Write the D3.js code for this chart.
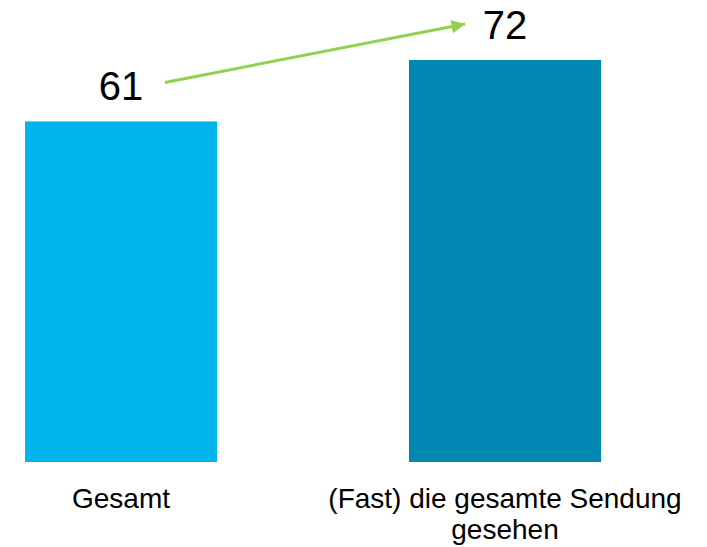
<!DOCTYPE html>
<html>
<head>
<meta charset="utf-8">
<script src="https://cdn.jsdelivr.net/npm/d3@7"></script>
<style>
  html, body { margin: 0; padding: 0; background: #fff; }
  svg { display: block; }
  text { font-family: "Liberation Sans", Arial, sans-serif; fill: #000; }
</style>
</head>
<body>
<svg id="chart" width="707" height="547"></svg>
<script>
// Data
const categories = ["Gesamt", "(Fast) die gesamte Sendung gesehen"];
const categoryLines = [["Gesamt"], ["(Fast) die gesamte Sendung", "gesehen"]];
const values = [61, 72];
const barColors = ["#00B5EC", "#0088B2"];

const svg = d3.select("#chart");
const baseY = 462;

const x = d3.scaleBand()
  .domain(categories)
  .range([-71, 697])
  .paddingInner(0.5)
  .paddingOuter(0.25);

const y = d3.scaleLinear()
  .domain([0, d3.max(values)])
  .range([baseY, 60]);

// Bars
svg.selectAll("rect.bar")
  .data(values)
  .join("rect")
  .attr("class", "bar")
  .attr("x", (d, i) => x(categories[i]))
  .attr("y", d => y(d))
  .attr("width", x.bandwidth())
  .attr("height", d => y(0) - y(d))
  .attr("fill", (d, i) => barColors[i]);

// Value labels
svg.selectAll("text.value")
  .data(values)
  .join("text")
  .attr("class", "value")
  .attr("x", (d, i) => x(categories[i]) + x.bandwidth() / 2)
  .attr("y", d => y(d) - 21)
  .attr("text-anchor", "middle")
  .style("font-size", "40px")
  .text(d => d);

// Category labels (wrapped)
const labels = svg.selectAll("text.cat")
  .data(categories)
  .join("text")
  .attr("class", "cat")
  .attr("text-anchor", "middle")
  .style("font-size", "28px")
  .attr("x", d => x(d) + x.bandwidth() / 2)
  .attr("y", 508);
labels.each(function(d, i) {
  const t = d3.select(this);
  categoryLines[i].forEach((line, k) => {
    t.append("tspan")
      .attr("x", x(d) + x.bandwidth() / 2)
      .attr("dy", k === 0 ? 0 : 31)
      .text(line);
  });
});

// Growth arrow between the two value labels
const defs = svg.append("defs");
defs.append("marker")
  .attr("id", "arrowHead")
  .attr("viewBox", "0 0 10 10")
  .attr("refX", 10)
  .attr("refY", 5)
  .attr("markerWidth", 5.5)
  .attr("markerHeight", 4.5)
  .attr("markerUnits", "strokeWidth")
  .attr("orient", "auto")
  .append("path")
  .attr("d", "M0,0 L10,5 L0,10 Z")
  .attr("fill", "#92D050");

const c0 = x(categories[0]) + x.bandwidth() / 2;
const c1 = x(categories[1]) + x.bandwidth() / 2;
svg.append("line")
  .attr("x1", c0 + 44)
  .attr("y1", y(values[0]) - 39)
  .attr("x2", c1 - 40)
  .attr("y2", y(values[1]) - 36)
  .attr("stroke", "#92D050")
  .attr("stroke-width", 3)
  .attr("marker-end", "url(#arrowHead)");
</script>
</body>
</html>
